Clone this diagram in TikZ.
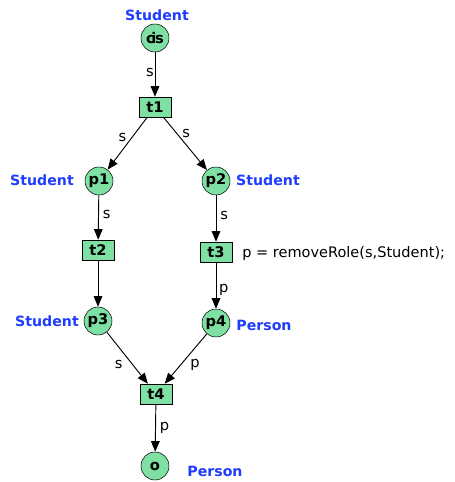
\documentclass[tikz,border=0pt]{standalone}
\usepackage{fontspec}
\setmainfont{DejaVu Sans}
\usetikzlibrary{arrows.meta}
\definecolor{placegreen}{RGB}{126,224,162}
\definecolor{typeblue}{RGB}{30,60,255}
\begin{document}
\begin{tikzpicture}[x=0.75pt,y=-0.75pt,
  place/.style={circle,draw=black,fill=placegreen,minimum size=21pt,inner sep=0pt,font=\bfseries\fontsize{11}{13}\selectfont},
  trans/.style={rectangle,draw=black,fill=placegreen,minimum width=24pt,minimum height=15pt,inner sep=0pt,font=\bfseries\fontsize{11}{13}\selectfont},
  typelabel/.style={text=typeblue,font=\bfseries\fontsize{10.6}{12}\selectfont,inner sep=0pt},
  arclabel/.style={font=\fontsize{11}{13}\selectfont,inner sep=0pt},
  arc/.style={draw=black,line width=0.7pt,-{Triangle[length=8pt,width=6.5pt]}}]
\useasboundingbox (0,0) rectangle (454,482);
% places
\node[place] (i) at (155,38) {c\kern-2.6pt i\kern-0.8pt s};
\node[place] (p1) at (99,181) {p1};
\node[place] (p2) at (216,181) {p2};
\node[place] (p3) at (98,321) {p3};
\node[place] (p4) at (216,323) {p4};
\node[place] (o) at (155,466) {o};
% transitions
\node[trans] (t1) at (155,107) {t1};
\node[trans] (t2) at (98,250) {t2};
\node[trans] (t3) at (216,252) {t3};
\node[trans] (t4) at (156,394) {t4};
% place types
\node[typelabel] (li) at (157,15) {Student};
\node[typelabel] (l1) at (42,180) {Student};
\node[typelabel] (l2) at (268,180) {Student};
\node[typelabel] (l3) at (47,321) {Student};
\node[typelabel] (l4) at (264,325) {Person};
\node[typelabel] (lo) at (215,471) {Person};
% guard / action of t3
\node[arclabel,font=\fontsize{10.9}{13}\selectfont,anchor=west] (act) at (242,253) {p = removeRole(s,Student);};
% arcs
\draw[arc] (i) -- node[arclabel,pos=0.45,left=0.5pt] {s} (t1);
\draw[arc] (t1) -- node[arclabel,pos=0.38,left=4pt] {s} (p1);
\draw[arc] (t1) -- node[arclabel,pos=0.3,right=4pt] {s} (p2);
\draw[arc] (p1) -- node[arclabel,pos=0.43,right=3pt] {s} (t2);
\draw[arc] (p2) -- node[arclabel,pos=0.43,right=3pt] {s} (t3);
\draw[arc] (t2) -- (p3);
\draw[arc] (t3) -- node[arclabel,pos=0.6,right=2pt] {p} (p4);
\draw[arc] (p3) -- node[arclabel,pos=0.62,left=7pt] {s} (t4);
\draw[arc] (p4) -- node[arclabel,pos=0.62,right=7pt] {p} (t4);
\draw[arc] (t4) -- node[arclabel,pos=0.5,right=3pt] {p} (o);
\end{tikzpicture}
\end{document}
